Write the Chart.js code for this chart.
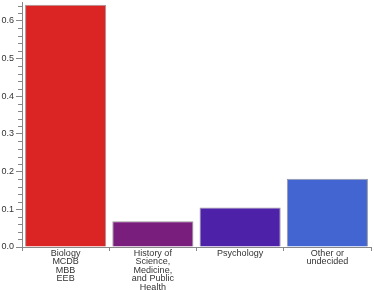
<!DOCTYPE html>
<html>
<head>
<meta charset="utf-8">
<script src="https://cdn.jsdelivr.net/npm/chart.js@4"></script>
<style>
  html, body { margin: 0; padding: 0; background: #fff; }
  #wrap { width: 374px; height: 290px; }
</style>
</head>
<body>
<div id="wrap"><canvas id="majorChart"></canvas></div>
<script>
    // Дані
    const categories = [
        ['Biology', 'MCDB', 'MBB', 'EEB'],
        ['History of', 'Science,', 'Medicine,', 'and Public', 'Health'],
        ['Psychology'],
        ['Other or', 'undecided']
    ];
    const shares = [0.643, 0.068, 0.105, 0.181];
    const barColors = ['#db2424', '#7a1e7e', '#4e21a9', '#4265d2'];
    const yTicks = [0, 0.1, 0.2, 0.3, 0.4, 0.5, 0.6];

    // мінорні поділки на осі Y
    const minorTicks = {
        id: 'minorTicks',
        afterDraw(chart) {
            const y = chart.scales.y;
            const ctx = chart.ctx;
            const x0 = chart.chartArea.left;
            ctx.save();
            ctx.strokeStyle = '#888';
            ctx.lineWidth = 1;
            for (let i = 0; i <= 32; i++) {
                if (i % 5 === 0) continue;
                const py = Math.round(y.getPixelForValue(i * 0.02)) + 0.5;
                ctx.beginPath();
                ctx.moveTo(x0 - 4, py);
                ctx.lineTo(x0, py);
                ctx.stroke();
            }
            ctx.restore();
        }
    };

    const ctx = document.getElementById('majorChart').getContext('2d');
    new Chart(ctx, {
        type: 'bar',
        data: {
            labels: categories,
            datasets: [{
                data: shares,
                backgroundColor: barColors,
                borderColor: '#9a9a9a',
                borderWidth: 1,
                barPercentage: 0.93,
                categoryPercentage: 1.0
            }]
        },
        options: {
            responsive: true,
            maintainAspectRatio: false,
            animation: false,
            layout: { padding: { top: 2, right: 3, left: 0, bottom: 0 } },
            plugins: {
                legend: { display: false },
                tooltip: { enabled: false }
            },
            scales: {
                x: {
                    grid: {
                        display: true,
                        drawOnChartArea: false,
                        offset: true,
                        tickLength: 4,
                        color: '#888'
                    },
                    border: { color: '#888' },
                    ticks: {
                        color: '#333',
                        padding: -2,
                        maxRotation: 0,
                        autoSkip: false,
                        font: { family: 'Liberation Sans', size: 9, lineHeight: 0.95 }
                    },
                    afterFit(scale) {
                        scale.height = 43;
                        scale.paddingLeft = 0;
                        scale.paddingRight = 0;
                    }
                },
                y: {
                    min: 0,
                    max: 0.65,
                    afterBuildTicks(scale) {
                        scale.ticks = yTicks.map(v => ({ value: v }));
                    },
                    grid: {
                        display: true,
                        drawOnChartArea: false,
                        tickLength: 6,
                        color: '#888'
                    },
                    border: { color: '#888' },
                    ticks: {
                        color: '#333',
                        padding: 2,
                        font: { family: 'Liberation Sans', size: 9 },
                        callback: v => v.toFixed(1)
                    },
                    afterFit(scale) {
                        scale.width = 22;
                        scale.paddingTop = 0;
                        scale.paddingBottom = 0;
                    }
                }
            }
        },
        plugins: [minorTicks]
    });
</script>
</body>
</html>
